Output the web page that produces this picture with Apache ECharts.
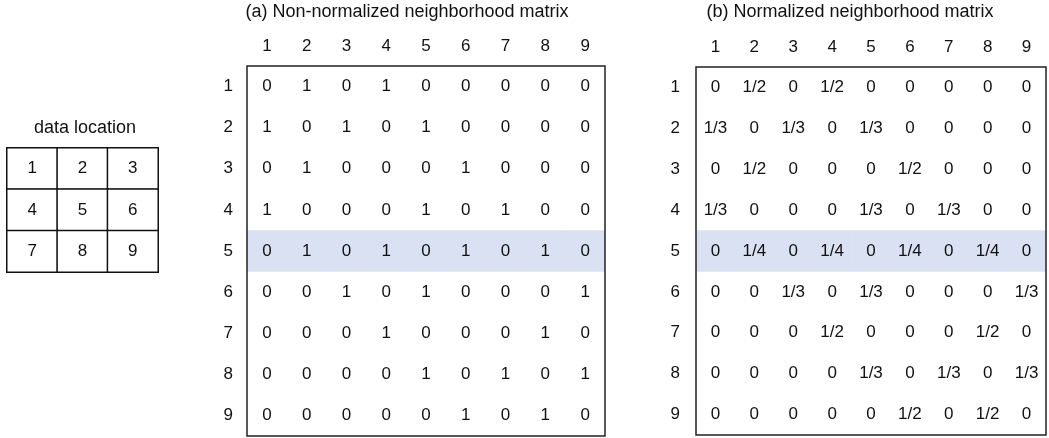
<!DOCTYPE html>
<html>
<head>
<meta charset="utf-8">
<script src="https://cdn.jsdelivr.net/npm/echarts@6/dist/echarts.min.js"></script>
<style>
  html, body { margin: 0; padding: 0; background: #fff; }
  #chart { width: 1049px; height: 438px; }
</style>
</head>
<body>
<div id="chart"></div>
<script>
// Node indices used on both matrix axes
const nodeLabels = ['1', '2', '3', '4', '5', '6', '7', '8', '9'];

// 3x3 spatial layout of the data locations
const locationGrid = [
  [1, 2, 3],
  [4, 5, 6],
  [7, 8, 9]
];

// (a) binary neighbourhood (adjacency) matrix, one array per row
const rawMatrix = [
  [0, 1, 0, 1, 0, 0, 0, 0, 0],
  [1, 0, 1, 0, 1, 0, 0, 0, 0],
  [0, 1, 0, 0, 0, 1, 0, 0, 0],
  [1, 0, 0, 0, 1, 0, 1, 0, 0],
  [0, 1, 0, 1, 0, 1, 0, 1, 0],
  [0, 0, 1, 0, 1, 0, 0, 0, 1],
  [0, 0, 0, 1, 0, 0, 0, 1, 0],
  [0, 0, 0, 0, 1, 0, 1, 0, 1],
  [0, 0, 0, 0, 0, 1, 0, 1, 0]
];

// (b) row-normalised neighbourhood matrix, written as fractions
const normalizedMatrix = [
  ['0', '1/2', '0', '1/2', '0', '0', '0', '0', '0'],
  ['1/3', '0', '1/3', '0', '1/3', '0', '0', '0', '0'],
  ['0', '1/2', '0', '0', '0', '1/2', '0', '0', '0'],
  ['1/3', '0', '0', '0', '1/3', '0', '1/3', '0', '0'],
  ['0', '1/4', '0', '1/4', '0', '1/4', '0', '1/4', '0'],
  ['0', '0', '1/3', '0', '1/3', '0', '0', '0', '1/3'],
  ['0', '0', '0', '1/2', '0', '0', '0', '1/2', '0'],
  ['0', '0', '0', '0', '1/3', '0', '1/3', '0', '1/3'],
  ['0', '0', '0', '0', '0', '1/2', '0', '1/2', '0']
];

const highlightRow = 4; // row of node 5
const FONT = 'Liberation Sans, Arial, sans-serif';
const TEXT = '#111';
const HIGHLIGHT = '#dae1f2';
const CELL_FONT = 17;
const TITLE_FONT = 18;

function fracValue(s) {
  const parts = s.split('/');
  return parts.length === 2 ? Number(parts[0]) / Number(parts[1]) : Number(s);
}

function matrixCells(rows, toValue) {
  const out = [];
  rows.forEach((row, r) => {
    row.forEach((v, c) => {
      out.push({
        value: [c, r, toValue(v)],
        itemStyle: { color: r === highlightRow ? HIGHLIGHT : 'rgba(0,0,0,0)' }
      });
    });
  });
  return out;
}

const locCells = [];
locationGrid.forEach((row, r) => row.forEach((v, c) => locCells.push([c, r, v])));

const chart = echarts.init(document.getElementById('chart'), null, { renderer: 'canvas' });

const matrixXAxis = (gridIndex) => ({
  type: 'category', gridIndex, data: nodeLabels, position: 'top',
  axisLine: { show: false }, axisTick: { show: false }, splitLine: { show: false },
  axisLabel: { color: TEXT, fontSize: CELL_FONT, fontFamily: FONT, margin: 11 }
});
const matrixYAxis = (gridIndex, margin) => ({
  type: 'category', gridIndex, data: nodeLabels, inverse: true,
  axisLine: { show: false }, axisTick: { show: false }, splitLine: { show: false },
  axisLabel: { color: TEXT, fontSize: CELL_FONT, fontFamily: FONT, margin }
});

chart.setOption({
  animation: false,
  backgroundColor: '#fff',
  grid: [
    { left: 7, top: 148, width: 151, height: 124, show: false },
    { left: 247, top: 66, width: 358, height: 370, show: true, borderColor: '#222', borderWidth: 1.5, backgroundColor: 'transparent', z: 5 },
    { left: 696, top: 67, width: 350, height: 368, show: true, borderColor: '#222', borderWidth: 1.5, backgroundColor: 'transparent', z: 5 }
  ],
  xAxis: [
    { type: 'category', gridIndex: 0, data: ['a', 'b', 'c'], show: false },
    matrixXAxis(1),
    matrixXAxis(2)
  ],
  yAxis: [
    { type: 'category', gridIndex: 0, data: ['a', 'b', 'c'], inverse: true, show: false },
    matrixYAxis(1, 14),
    matrixYAxis(2, 16)
  ],
  graphic: [
    { type: 'text', x: 85, y: 128, style: { text: 'data location', align: 'center', verticalAlign: 'middle', fontSize: TITLE_FONT, fontFamily: FONT, fill: TEXT } },
    { type: 'text', x: 407, y: 12, style: { text: '(a) Non-normalized neighborhood matrix', align: 'center', verticalAlign: 'middle', fontSize: TITLE_FONT, fontFamily: FONT, fill: TEXT } },
    { type: 'text', x: 850, y: 12, style: { text: '(b) Normalized neighborhood matrix', align: 'center', verticalAlign: 'middle', fontSize: TITLE_FONT, fontFamily: FONT, fill: TEXT } }
  ],
  series: [
    {
      type: 'heatmap', xAxisIndex: 0, yAxisIndex: 0, data: locCells,
      itemStyle: { color: '#fff', borderColor: '#111', borderWidth: 1.5 },
      label: { show: true, color: TEXT, fontSize: CELL_FONT, fontFamily: FONT, formatter: p => String(p.value[2]) },
      emphasis: { disabled: true }
    },
    {
      type: 'heatmap', xAxisIndex: 1, yAxisIndex: 1, data: matrixCells(rawMatrix, v => v),
      label: { show: true, color: TEXT, fontSize: CELL_FONT, fontFamily: FONT, formatter: p => String(rawMatrix[p.value[1]][p.value[0]]) },
      emphasis: { disabled: true }
    },
    {
      type: 'heatmap', xAxisIndex: 2, yAxisIndex: 2, data: matrixCells(normalizedMatrix, fracValue),
      label: { show: true, color: TEXT, fontSize: CELL_FONT, fontFamily: FONT, formatter: p => normalizedMatrix[p.value[1]][p.value[0]] },
      emphasis: { disabled: true }
    }
  ]
});
</script>
</body>
</html>
